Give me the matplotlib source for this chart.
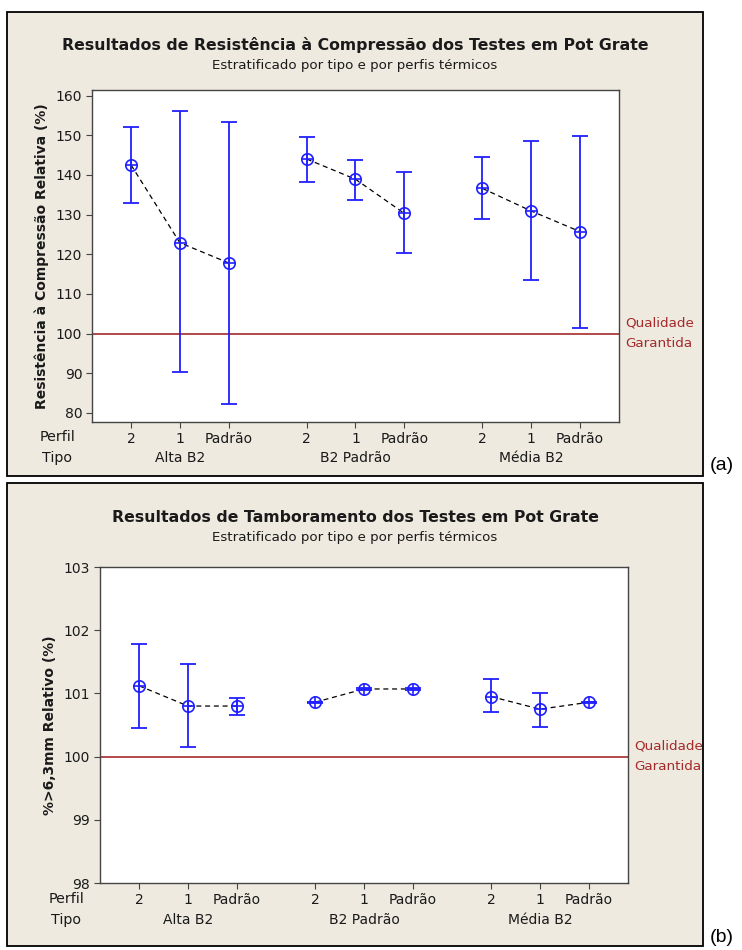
import matplotlib
matplotlib.use("Agg")
import matplotlib.pyplot as plt
import matplotlib.transforms as mtransforms
from matplotlib.patches import Rectangle
import numpy as np

# ---- data ----
tipos = ["Alta B2", "B2 Padrão", "Média B2"]
perfis = ["2", "1", "Padrão"]

# (a) Resistência à Compressão Relativa (%)
rc_mean = [142.5, 122.9, 117.8, 144.0, 138.9, 130.3, 136.6, 130.9, 125.7]
rc_low = [132.8, 90.3, 82.2, 138.2, 133.7, 120.3, 128.8, 113.5, 101.4]
rc_high = [152.0, 156.0, 153.4, 149.5, 143.7, 140.7, 144.6, 148.6, 149.8]

# (b) %>6,3mm Relativo (%)
tb_mean = [101.12, 100.80, 100.80, 100.86, 101.07, 101.07, 100.95, 100.75, 100.86]
tb_low = [100.46, 100.15, 100.66, 100.85, 101.06, 101.06, 100.70, 100.47, 100.85]
tb_high = [101.78, 101.47, 100.93, 100.87, 101.08, 101.08, 101.22, 101.00, 100.87]

ref_value = 100

BG = "#EEEAE0"
BLUE = "#2020FF"
RED = "#A52A2A"
TXT = "#1a1a1a"

plt.rcParams["font.family"] = ["DejaVu Sans"]

fig = plt.figure(figsize=(7.42, 9.5), dpi=100)
W, H = 742, 950


def fx(px):
    return px / W


def fy(py):
    return 1 - py / H


# panel frames drawn in a background axes
bg = fig.add_axes([0, 0, 1, 1], zorder=0)
bg.set_xlim(0, W)
bg.set_ylim(H, 0)
bg.axis("off")
for (x0, y0, x1, y1) in [(7, 12, 703, 476), (7, 483, 703, 946)]:
    bg.add_patch(Rectangle((x0, y0), x1 - x0, y1 - y0, facecolor=BG,
                           edgecolor="black", linewidth=1.3))

pos = []
for g in range(3):
    for p in range(3):
        pos.append(g * 3.6 + p)
pos = np.array(pos)

FS = 10


def panel(rect_px, mean, low, high, ylim, yticks, ylabel, title, sub, title_y, sub_y,
          perfil_y, tipo_y, label_x):
    x0, y0, x1, y1 = rect_px
    ax = fig.add_axes([fx(x0), fy(y1), fx(x1) - fx(x0), fy(y0) - fy(y1)], zorder=2)
    ax.set_facecolor("white")
    mean = np.array(mean)
    low = np.array(low)
    high = np.array(high)
    ax.axhline(ref_value, color=RED, lw=1.2, zorder=1)
    for g in range(3):
        sl = slice(3 * g, 3 * g + 3)
        ax.plot(pos[sl], mean[sl], ls=(0, (4, 3)), color="black", lw=0.9, zorder=2)
    ax.errorbar(pos, mean, yerr=[mean - low, high - mean], fmt="none",
                ecolor=BLUE, elinewidth=1.3, capsize=5.5, capthick=1.3, zorder=3)
    ax.plot(pos, mean, "o", ms=8.2, mfc="none", mec=BLUE, mew=1.2, zorder=4)
    ax.plot(pos, mean, "+", ms=8.2, mec=BLUE, mew=1.2, zorder=5)
    ax.set_xlim(-0.8, 10.0)
    ax.set_ylim(*ylim)
    ax.set_yticks(yticks)
    ax.set_yticklabels([str(t) for t in yticks], fontsize=FS, color=TXT)
    ax.set_xticks(pos)
    ax.set_xticklabels(perfis * 3, fontsize=FS, color=TXT)
    ax.tick_params(axis="both", length=4, width=0.8, color="#444444", pad=3)
    for s in ax.spines.values():
        s.set_color("#444444")
        s.set_linewidth(1.0)
    ax.set_ylabel(ylabel, fontsize=10, fontweight="bold", color=TXT, labelpad=5)
    trans = mtransforms.blended_transform_factory(ax.transData, fig.transFigure)
    for g, t in enumerate(tipos):
        ax.text(pos[3 * g + 1], fy(tipo_y), t, transform=trans,
                ha="center", va="center", fontsize=FS, color=TXT)
    fig.text(fx(label_x), fy(perfil_y), "Perfil", ha="center", va="center", fontsize=10.3, color=TXT)
    fig.text(fx(label_x), fy(tipo_y), "Tipo", ha="center", va="center", fontsize=10.3, color=TXT)
    fig.text(fx(355), fy(title_y), title, ha="center", va="center", fontsize=11.3,
             fontweight="bold", color=TXT)
    fig.text(fx(355), fy(sub_y), sub, ha="center", va="center", fontsize=9.6, color=TXT)
    ax.text(1.012, ref_value, "Qualidade\nGarantida",
            transform=ax.get_yaxis_transform(),
            ha="left", va="center", fontsize=9.7, color=RED, linespacing=1.75)
    return ax


panel((92, 90, 619, 422), rc_mean, rc_low, rc_high, (77.7, 161.4),
      [80, 90, 100, 110, 120, 130, 140, 150, 160],
      "Resistência à Compressão Relativa (%)",
      "Resultados de Resistência à Compressão dos Testes em Pot Grate",
      "Estratificado por tipo e por perfis térmicos", 45, 66, 437, 458, 57)

panel((100, 567, 628, 883), tb_mean, tb_low, tb_high, (98, 103),
      [98, 99, 100, 101, 102, 103],
      "%>6,3mm Relativo (%)",
      "Resultados de Tamboramento dos Testes em Pot Grate",
      "Estratificado por tipo e por perfis térmicos", 517, 537, 899, 920, 66)

fig.text(fx(722), fy(466), "(a)", ha="center", va="center", fontsize=14,
         family="Liberation Sans", color="black")
fig.text(fx(722), fy(937), "(b)", ha="center", va="center", fontsize=14,
         family="Liberation Sans", color="black")

fig.savefig("out.png", dpi=100, facecolor="white")
